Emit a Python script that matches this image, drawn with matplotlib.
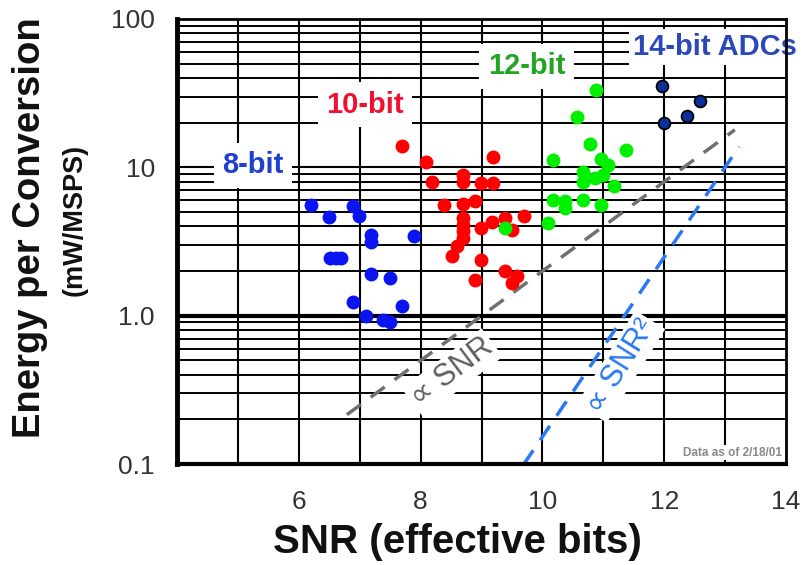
import matplotlib
matplotlib.use("Agg")
import matplotlib.pyplot as plt
import numpy as np

# ---------------- data ----------------
bit8_x = [6.20, 6.50, 6.89, 6.99, 7.19, 7.19, 7.89, 6.51, 6.61, 6.70, 7.19, 7.49, 6.89, 7.69, 7.10, 7.39, 7.49]
bit8_y = [5.59, 4.59, 5.51, 4.73, 3.51, 3.16, 3.42, 2.45, 2.45, 2.45, 1.91, 1.79, 1.23, 1.17, 1.00, 0.94, 0.90]

bit10_x = [7.69, 8.09, 9.19, 8.19, 8.69, 8.69, 8.99, 9.19, 8.39, 8.69, 8.89,
           8.69, 8.69, 8.69, 8.69, 8.59, 8.51, 8.99, 9.17, 9.39, 9.69, 9.50,
           8.99, 8.89, 9.39, 9.58, 9.50]
bit10_y = [14.0, 10.8, 11.8, 8.02, 8.9, 8.0, 7.83, 7.83, 5.59, 5.68, 5.95,
           4.55, 4.10, 3.70, 3.33, 2.93, 2.51, 3.89, 4.31, 4.55, 4.71, 3.79,
           2.38, 1.75, 1.99, 1.84, 1.66]

bit12_x = [10.88, 10.57, 10.78, 11.37, 10.18, 10.97, 11.08, 10.67, 10.67, 10.86, 11.00,
           11.18, 10.18, 10.37, 10.37, 10.67, 10.97, 10.09, 9.38]
bit12_y = [33.3, 21.8, 14.3, 13.1, 11.2, 11.4, 10.4, 9.37, 8.02, 8.46, 8.9,
           7.5, 6.04, 5.89, 5.31, 6.04, 5.53, 4.21, 3.89]

bit14_x = [11.97, 12.58, 12.38, 12.00]
bit14_y = [35.4, 28.2, 22.2, 19.8]

snr_line_x = [6.79, 13.16]
snr_line_y = [0.215, 17.9]
snr2_line_x = [9.69, 13.23]
snr2_line_y = [0.099, 13.8]

x_ticks = [6, 8, 10, 12, 14]
y_ticks = [0.1, 1.0, 10, 100]
y_tick_labels = ["0.1", "1.0", "10", "100"]

# ---------------- figure ----------------
plt.rcParams['font.family'] = ['Liberation Sans', 'DejaVu Sans']
fig = plt.figure(figsize=(8.05, 5.65), dpi=100)
ax = fig.add_axes([177/805, 101/565, 609/805, 445/565])
ax.set_yscale('log')
ax.set_xlim(4, 14)
ax.set_ylim(0.1, 100)

# grid
for xv in range(5, 14):
    ax.axvline(xv, color='black', lw=1.5, zorder=1)
for dec in [0.1, 1, 10]:
    for m in range(2, 10):
        ax.axhline(dec * m, color='black', lw=1.4, zorder=1)
ax.axhline(10, color='black', lw=1.5, zorder=1)
ax.axhline(1.0, color='black', lw=3.0, zorder=1)

for side, lw in [('left', 3.5), ('bottom', 3.0), ('top', 2.0), ('right', 2.0)]:
    ax.spines[side].set_linewidth(lw)
    ax.spines[side].set_zorder(5)

ax.set_xticks(x_ticks)
ax.set_xticklabels([str(t) for t in x_ticks])
ax.set_yticks(y_ticks)
ax.set_yticklabels(y_tick_labels)
ax.yaxis.set_minor_locator(matplotlib.ticker.NullLocator())
ax.tick_params(axis='both', length=0, labelsize=19, labelcolor='#333333')
ax.tick_params(axis='x', pad=19)
ax.tick_params(axis='y', pad=16)

# guide lines
ax.plot(snr_line_x, snr_line_y, color='#707070', lw=2.5, dashes=(5, 3.5), zorder=3)
ax.plot(snr2_line_x, snr2_line_y, color='#2a78f5', lw=2.5, dashes=(5, 3.5), zorder=3)

# points
ax.plot(bit8_x, bit8_y, 'o', color='#0a14f0', ms=9, mec='#0a14f0', zorder=4)
ax.plot(bit10_x, bit10_y, 'o', color='#ff0000', ms=9, mec='#ff0000', zorder=4)
ax.plot(bit12_x, bit12_y, 'o', color='#00f000', ms=9, mec='#00f000', zorder=4)
ax.plot(bit14_x, bit14_y, 'o', color='#0b2f9c', ms=8.5, mec='black', mew=1.3, zorder=4)

bb = dict(facecolor='white', edgecolor='none', pad=6)
ax.text(5.25, 10.35, "8-bit", color='#1f3fd0', fontsize=21, fontweight='bold',
        ha='center', va='center', bbox=bb, zorder=3)
ax.text(7.09, 26.4, "10-bit", color='#f01030', fontsize=21, fontweight='bold',
        ha='center', va='center', bbox=bb, zorder=3)
ax.text(9.74, 47.9, "12-bit", color='#22a522', fontsize=21, fontweight='bold',
        ha='center', va='center', bbox=bb, zorder=3)
ax.text(12.83, 65.1, "14-bit ADCs", color='#2a48b8', fontsize=21, fontweight='bold',
        ha='center', va='center', bbox=dict(facecolor='white', edgecolor='none', pad=3),
        zorder=3, clip_on=False)
ax.text(8.52, 0.413, "\u221d SNR", color='#606060', fontsize=22, rotation=37,
        ha='center', va='center', rotation_mode='anchor',
        bbox=dict(facecolor='white', edgecolor='none', pad=2), zorder=3)
ax.text(11.29, 0.454, "\u221d SNR\u00b2", color='#2a78f5', fontsize=22, rotation=58,
        ha='center', va='center', rotation_mode='anchor',
        bbox=dict(facecolor='white', edgecolor='none', pad=2), zorder=3)
ax.text(13.93, 0.1195, "Data as of 2/18/01", color='#888888', fontsize=8.5, fontweight='bold',
        ha='right', va='center', bbox=dict(facecolor='white', edgecolor='none', pad=1), zorder=3)

# axis titles
fig.text(457/805, 1 - 542/565, "SNR (effective bits)", fontsize=29, fontweight='bold',
         ha='center', va='center', color='#111111')
fig.text(30/805, 1 - 228/565, "Energy per Conversion", fontsize=27.5, fontweight='bold',
         ha='center', va='center', rotation=90, color='#111111')
fig.text(75/805, 1 - 220/565, "(mW/MSPS)", fontsize=19.5, fontweight='bold',
         ha='center', va='center', rotation=90, color='#111111')

fig.savefig("out.png", dpi=100)
